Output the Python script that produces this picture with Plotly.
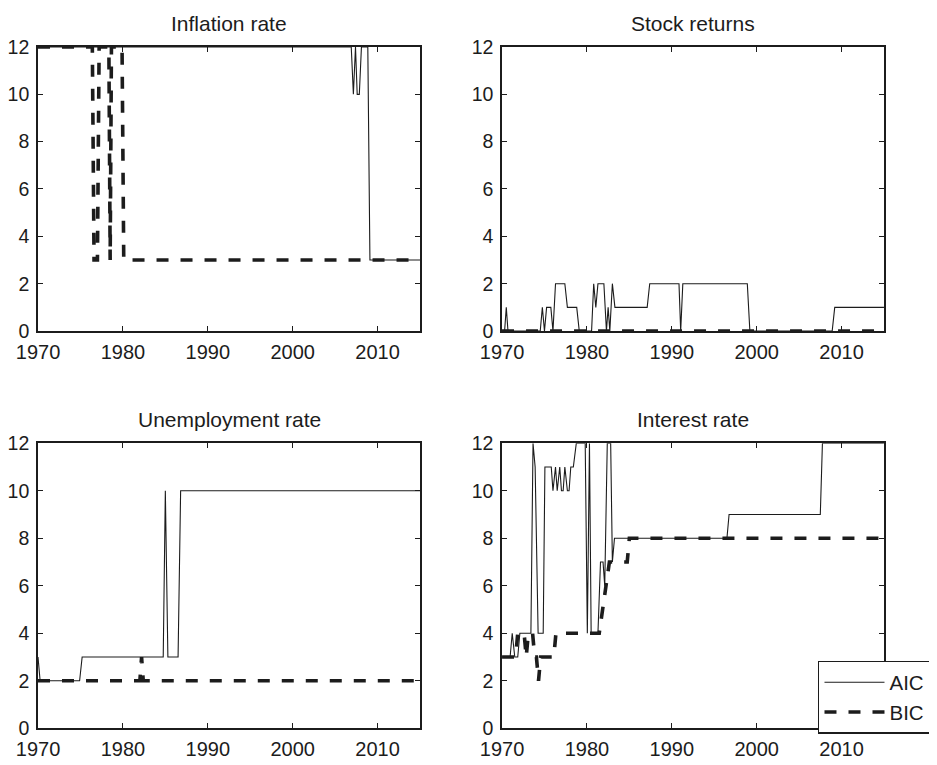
import plotly.graph_objects as go
from plotly.subplots import make_subplots

# lag order chosen by AIC / BIC (vertices of each path)
infl_aic_x = [1970, 2006.9, 2007.15, 2007.4, 2007.6, 2007.85, 2008.1, 2008.85, 2009.1, 2015]
infl_aic_y = [12, 12, 10, 12, 10, 10, 12, 12, 3, 3]
infl_bic_x = [1970, 1976.4, 1976.6, 1977.0, 1977.2, 1978.35, 1978.5, 1978.65, 1979.9, 1980.1, 2015]
infl_bic_y = [12, 12, 3, 3, 12, 12, 3, 12, 12, 3, 3]

stock_aic_x = [1970, 1970.3, 1970.5, 1970.7, 1974.5, 1974.75, 1975.0, 1975.25, 1975.75, 1976.0,
               1976.3, 1977.4, 1977.7, 1978.8, 1979.1, 1980.55, 1980.8, 1981.05, 1981.3, 1982.0,
               1982.3, 1982.5, 1982.7, 1983.0, 1983.3, 1987.1, 1987.4, 1990.85, 1991.05, 1991.3,
               1998.9, 1999.2, 2008.9, 2009.2, 2015]
stock_aic_y = [0, 0, 1, 0, 0, 1, 0, 1, 1, 0,
               2, 2, 1, 1, 0, 0, 2, 1, 2, 2,
               0, 1, 0, 2, 1, 1, 2, 2, 0, 2,
               2, 0, 0, 1, 1]
stock_bic_x = [1970, 2015]
stock_bic_y = [0, 0]

unemp_aic_x = [1970, 1970.25, 1974.9, 1975.2, 1984.75, 1985.0, 1985.3, 1986.5, 1986.8, 2015]
unemp_aic_y = [3, 2, 2, 3, 3, 10, 3, 3, 10, 10]
unemp_bic_x = [1970, 1982.0, 1982.2, 1982.4, 2015]
unemp_bic_y = [2, 2, 3, 2, 2]

int_aic_x = [1970, 1970.95, 1971.2, 1971.5, 1971.85, 1972.1, 1973.4, 1973.65, 1973.9, 1974.25,
             1974.85, 1975.05, 1975.8, 1976.0, 1976.3, 1976.5, 1976.8, 1977.0, 1977.2, 1977.4,
             1977.7, 1977.9, 1978.1, 1978.4, 1978.75, 1979.8, 1980.05, 1980.3, 1980.5, 1981.3,
             1981.6, 1981.9, 1982.1, 1982.4, 1982.8, 1983.0, 1983.25, 1996.5, 1996.75, 2007.5,
             2007.75, 2015]
int_aic_y = [3, 3, 4, 3, 3, 4, 4, 12, 11, 4,
             4, 11, 11, 10, 11, 10, 11, 10, 10, 11,
             10, 10, 11, 11, 12, 12, 4, 12, 4, 4,
             7, 7, 6, 12, 12, 7, 8, 8, 9, 9,
             12, 12]
int_bic_x = [1970, 1971.6, 1971.85, 1972.6, 1972.85, 1973.1, 1973.6, 1973.85, 1974.05, 1974.3,
             1974.55, 1976.1, 1976.35, 1981.45, 1981.85, 1982.25, 1982.65, 1984.75, 1985.0, 2015]
int_bic_y = [3, 3, 4, 4, 3, 4, 4, 3, 3, 2,
             3, 3, 4, 4, 5, 6, 7, 7, 8, 8]

titles = ["Inflation rate", "Stock returns", "Unemployment rate", "Interest rate"]
panels = [
    (infl_aic_x, infl_aic_y, infl_bic_x, infl_bic_y),
    (stock_aic_x, stock_aic_y, stock_bic_x, stock_bic_y),
    (unemp_aic_x, unemp_aic_y, unemp_bic_x, unemp_bic_y),
    (int_aic_x, int_aic_y, int_bic_x, int_bic_y),
]
year_ticks = [1970, 1980, 1990, 2000, 2010]
value_ticks = [0, 2, 4, 6, 8, 10, 12]

INK = "#1c1c1c"
FONT = "Liberation Sans, Arial, Helvetica, sans-serif"

fig = make_subplots(rows=2, cols=2)

for i, (ax, ay, bx, by) in enumerate(panels):
    r, c = i // 2 + 1, i % 2 + 1
    last = i == 3
    fig.add_trace(go.Scatter(x=ax, y=ay, mode="lines", name="AIC", showlegend=last,
                             line=dict(color=INK, width=1.1)), row=r, col=c)
    fig.add_trace(go.Scatter(x=bx, y=by, mode="lines", name="BIC", showlegend=last,
                             line=dict(color=INK, width=3.6, dash="12px,12px")), row=r, col=c)

# page body adds an 8px margin, so the figure is 929x757 and domains are shifted to match
xdom = [[0.0323, 0.4435], [0.5318, 0.9429]]
ydom = [[0.5733, 0.9485], [0.0485, 0.4250]]

for i in range(4):
    r, c = i // 2 + 1, i % 2 + 1
    fig.update_xaxes(domain=xdom[c - 1], range=[1970, 2015], tickvals=year_ticks,
                     ticks="inside", ticklen=5, tickcolor=INK, showline=True, linecolor=INK,
                     linewidth=1.6, mirror="ticks", showgrid=False, zeroline=False,
                     automargin=False, ticklabelstandoff=2,
                     tickfont=dict(size=20, color=INK, family=FONT), row=r, col=c)
    fig.update_yaxes(domain=ydom[r - 1], range=[0, 12], tickvals=value_ticks,
                     ticks="inside", ticklen=5, tickcolor=INK, showline=True, linecolor=INK,
                     linewidth=1.6, mirror="ticks", showgrid=False, zeroline=False,
                     automargin=False, ticklabelstandoff=3,
                     tickfont=dict(size=19.5, color=INK, family=FONT), row=r, col=c)
    fig.add_annotation(text=titles[i], xref="paper", yref="paper",
                       x=sum(xdom[c - 1]) / 2, y=ydom[r - 1][1], xanchor="center",
                       yanchor="bottom", yshift=10, showarrow=False,
                       font=dict(size=21, color=INK, family=FONT))

fig.update_layout(
    width=929,
    height=757,
    margin=dict(l=0, r=0, t=0, b=0),
    paper_bgcolor="white",
    plot_bgcolor="white",
    font=dict(family=FONT, color=INK),
    legend=dict(x=0.8719, y=0.1374, xanchor="left", yanchor="top", itemwidth=60,
                bgcolor="white", bordercolor=INK, borderwidth=1.5,
                font=dict(size=20.5, color=INK, family=FONT)),
)

fig.write_html("out.html")
